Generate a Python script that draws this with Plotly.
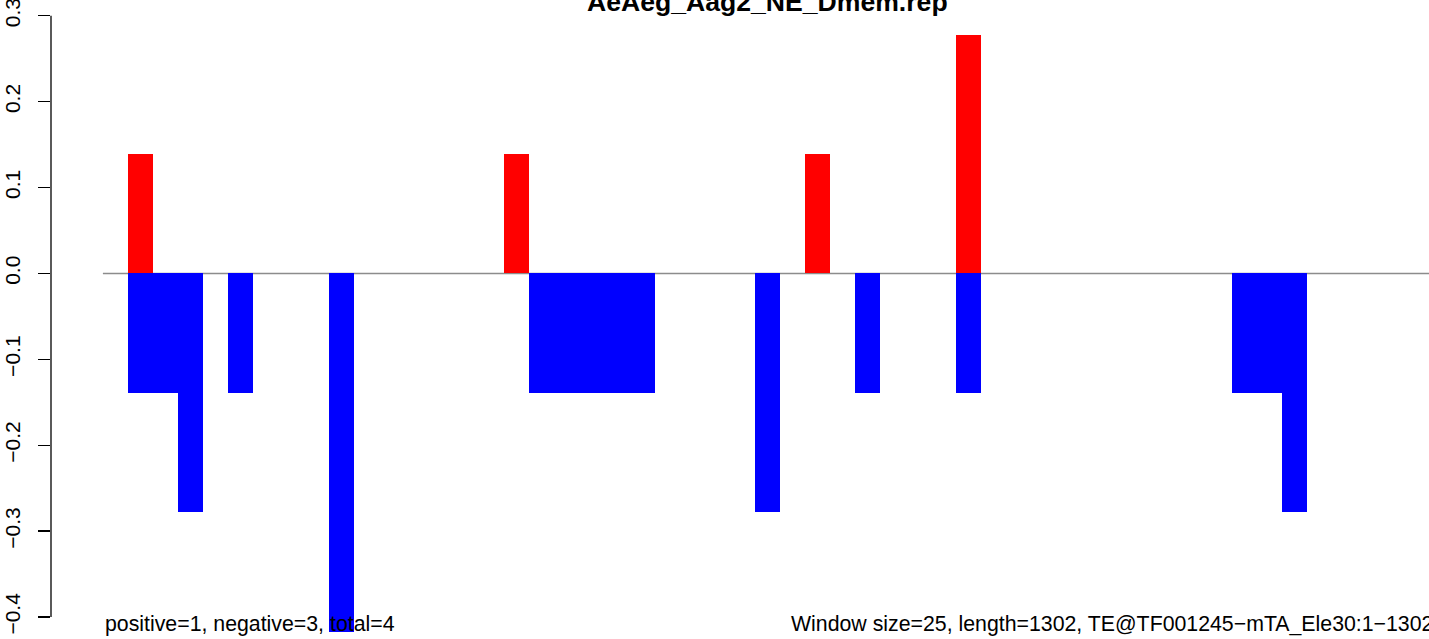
import plotly.graph_objects as go

# ---- data ----
n_windows = 53
window_index = list(range(n_windows))
pos_windows = [1, 16, 28, 34]
pos_values = [0.139, 0.139, 0.139, 0.278]
neg_windows = [1, 2, 3, 5, 9, 17, 18, 19, 20, 21, 26, 30, 34, 45, 46, 47]
neg_values = [-0.139, -0.139, -0.278, -0.139, -0.417, -0.139, -0.139, -0.139,
              -0.139, -0.139, -0.278, -0.139, -0.139, -0.139, -0.139, -0.278]
y_ticks = [-0.4, -0.3, -0.2, -0.1, 0.0, 0.1, 0.2, 0.3]
y_tick_labels = ["\u22120.4", "\u22120.3", "\u22120.2", "\u22120.1", "0.0", "0.1", "0.2", "0.3"]
title_text = "AeAeg_Aag2_NE_Dmem.rep"
left_note = "positive=1, negative=3, total=4"
right_note = "Window size=25, length=1302, TE@TF001245\u2212mTA_Ele30:1\u22121302"

pos_series = [0.0] * n_windows
for w, v in zip(pos_windows, pos_values):
    pos_series[w] = v
neg_series = [0.0] * n_windows
for w, v in zip(neg_windows, neg_values):
    neg_series[w] = v

centers = [i + 0.5 for i in window_index]

W, H = 1429, 639
ML = 51
FONT = "Liberation Sans, Arial, sans-serif"

fig = go.Figure()
fig.add_trace(go.Bar(x=centers, y=pos_series, width=1, marker=dict(color="#FF0000", line=dict(width=0)),
                     showlegend=False, hoverinfo="skip"))
fig.add_trace(go.Bar(x=centers, y=neg_series, width=1, marker=dict(color="#0000FF", line=dict(width=0)),
                     showlegend=False, hoverinfo="skip"))

# zero line from first window to right edge
fig.add_shape(type="line", xref="x", yref="y", x0=0, x1=n_windows, y0=0, y1=0,
              line=dict(color="#8c8c8c", width=1.5), layer="below")
# y axis line spanning ticks only
fig.add_shape(type="line", xref="paper", yref="y", x0=0, x1=0, y0=y_ticks[0], y1=y_ticks[-1],
              line=dict(color="black", width=1.3))

fig.add_annotation(text="<b>" + title_text + "</b>", xref="paper", yref="paper",
                   x=(767.5 - ML) / (W - ML), y=1 - 19 / H, xanchor="center", yanchor="bottom",
                   showarrow=False, font=dict(family=FONT, size=26.6, color="black"))
fig.add_annotation(text=left_note, xref="paper", yref="paper",
                   x=(103 - ML) / (W - ML), y=1 - 624 / H, xanchor="left", yanchor="middle",
                   showarrow=False, font=dict(family=FONT, size=21.3, color="black"))
fig.add_annotation(text=right_note, xref="paper", yref="paper",
                   x=(789 - ML) / (W - ML), y=1 - 624 / H, xanchor="left", yanchor="middle",
                   showarrow=False, font=dict(family=FONT, size=21.3, color="black"))

xmin = (ML - 102.9) / 25.08
xmax = (W - 102.9) / 25.08
ytop = 273.4 / 859
ybot = -(H - 273.4) / 859

fig.update_layout(
    width=W, height=H,
    margin=dict(l=ML, r=0, t=0, b=0, pad=0),
    paper_bgcolor="white", plot_bgcolor="white",
    barmode="overlay", bargap=0,
    xaxis=dict(range=[xmin, xmax], visible=False, showgrid=False, zeroline=False, automargin=False),
    yaxis=dict(range=[ybot, ytop], tickvals=y_ticks, ticktext=y_tick_labels,
               ticks="outside", ticklen=12, tickwidth=1.3, tickcolor="black",
               tickangle=-90, showgrid=False, zeroline=False, showline=False, automargin=False,
               ticklabeloverflow="allow",
               tickfont=dict(family=FONT, size=21, color="black"), ticklabelstandoff=10),
    font=dict(family=FONT),
)

fig.write_html("out.html", config={"displayModeBar": False, "staticPlot": True},
               post_script="document.body.style.margin='0';document.body.style.overflow='hidden';")
